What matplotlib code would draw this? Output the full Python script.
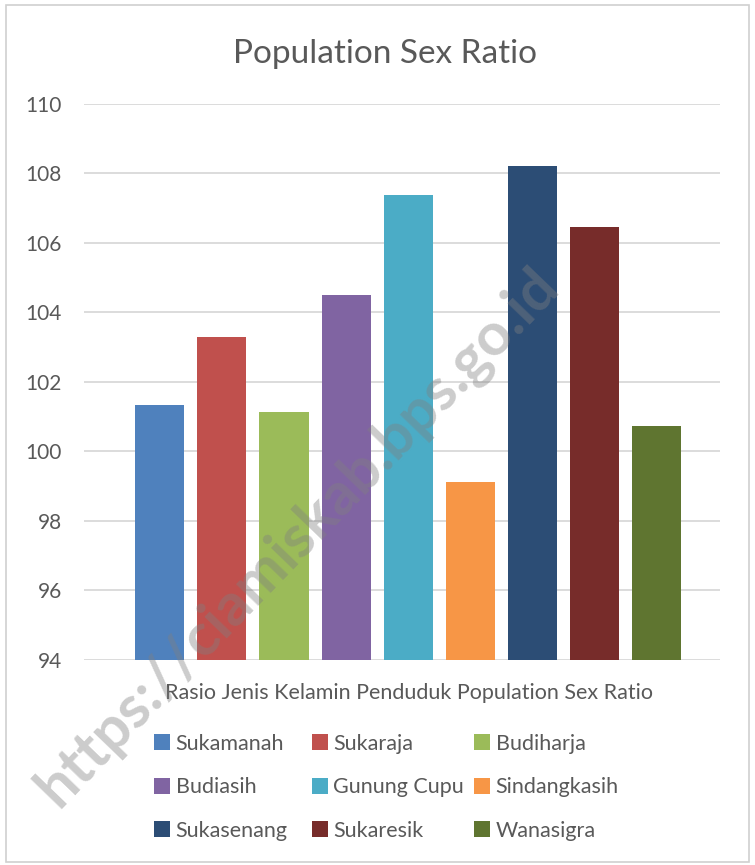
import matplotlib
matplotlib.use("Agg")
import matplotlib.pyplot as plt
from matplotlib.patches import Rectangle

plt.rcParams['font.family'] = ['Lato', 'DejaVu Sans']

categories = ["Sukamanah", "Sukaraja", "Budiharja", "Budiasih", "Gunung Cupu",
              "Sindangkasih", "Sukasenang", "Sukaresik", "Wanasigra"]
values = [101.33, 103.29, 101.15, 104.50, 107.39, 99.12, 108.21, 106.46, 100.74]
colors = ["#4F81BD", "#C0504D", "#9BBB59", "#8064A2", "#4BACC6",
          "#F79646", "#2C4D75", "#772C2A", "#5F7530"]
yticks = [94, 96, 98, 100, 102, 104, 106, 108, 110]
title = "Population Sex Ratio"
xlabel = "Rasio Jenis Kelamin Penduduk Population Sex Ratio"
watermark = "https://ciamiskab.bps.go.id"

fig = plt.figure(figsize=(7.55, 8.65), dpi=100)
fig.patch.set_facecolor("white")
fig.add_artist(Rectangle((0.008, 0.004), 0.984, 0.99, transform=fig.transFigure,
                         fill=False, edgecolor="#d0d0d0", linewidth=1.2))

ax = fig.add_axes([0.1113, 0.237, 0.8423, 0.6428])
base = yticks[0]
bars = []
for i, (c, v, col) in enumerate(zip(categories, values, colors)):
    b = ax.bar(i, v - base, bottom=base, width=0.79, color=col, label=c, zorder=3)
    bars.append(b)

ax.set_ylim(yticks[0], yticks[-1])
ax.set_xlim(-1.22, 9.02)
ax.set_yticks(yticks)
ax.set_yticklabels([str(t) for t in yticks], fontsize=15, color="#595959")
ax.set_xticks([])
ax.grid(axis="y", color="#d9d9d9", linewidth=1.3, zorder=0)
for s in ax.spines.values():
    s.set_visible(False)
ax.tick_params(axis="y", length=0, pad=16)

fig.text(0.510, 0.938, title, ha="center", va="center", fontsize=24, color="#595959")
fig.text(0.542, 0.199, xlabel, ha="center", va="center", fontsize=15.5, color="#595959")

# legend: three columns, row-wise order as in the reference
col_x = [0.204, 0.413, 0.628]
for j in range(3):
    hs = [bars[j + 3 * r] for r in range(3)]
    ls = [categories[j + 3 * r] for r in range(3)]
    fig.legend(hs, ls, loc="upper left", bbox_to_anchor=(col_x[j], 0.152),
               frameon=False, fontsize=15.5, handlelength=0.75, handleheight=0.75,
               handletextpad=0.25, labelspacing=1.1, labelcolor="#595959",
               borderaxespad=0, borderpad=0)

fig.text(0.395, 0.378, watermark, ha="center", va="center", fontsize=43,
         fontweight="bold", color="#808080", alpha=0.4, rotation=46,
         zorder=10)

fig.savefig("out.png", dpi=100)
